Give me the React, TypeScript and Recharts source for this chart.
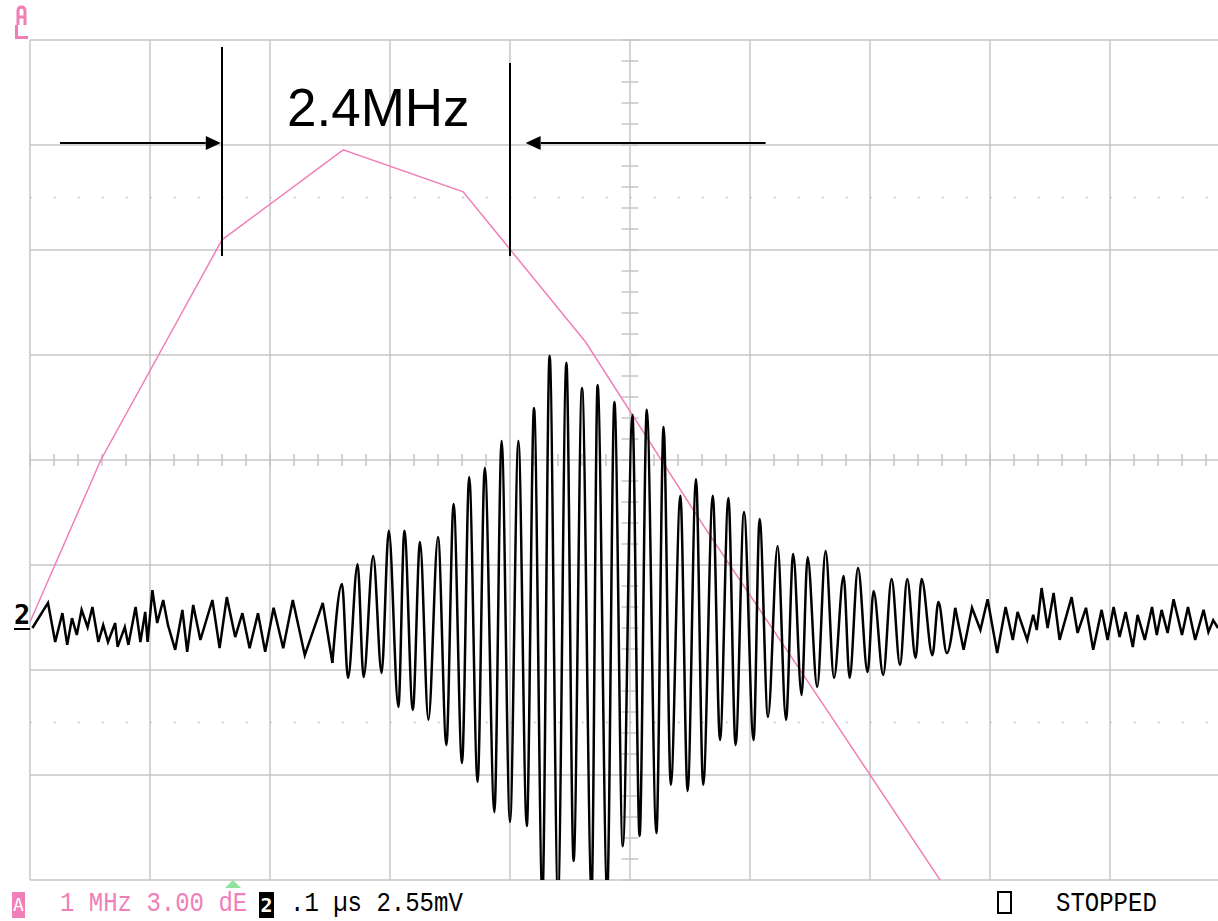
import React from 'react';
import { LineChart, Line, XAxis, YAxis, CartesianGrid, ReferenceLine } from 'recharts';

const PINK = '#f07fb8';
const GRID = '#c6c6c6';

// Channel A spectrum: 1 MHz/div, 3 dB/div, centre line = 0 dB
const specMHz = [0, 0.59, 1.6, 2.61, 3.61, 4.63, 5.63, 6.64, 7.65];
const specDb = [-4.63, 0, 6.29, 8.86, 7.66, 3.37, -1.97, -7.14, -12.34];

// -3 dB cursors and the bandwidth they enclose
const cursorMHz = [1.6, 4.0];
const cursorTopDb = [11.8, 11.34];
const cursorBottomDb = 5.83;
const arrowDb = 9.06;
const arrowLeft = [0.25, 1.59];
const arrowRight = [6.13, 4.13];
const bandwidthText = '2.4MHz';

// Channel 2 time trace: 0.1 µs/div, 2.55 mV/div, pairs of [ns, mV]
const leadNoise = [
  [2, -0.08], [15, 0.53], [21, -0.42], [27, 0.28], [31, -0.49], [35, 0.16], [39, -0.25],
  [43, 0.36], [48, -0.06], [52, 0.43], [57, -0.42], [61, -0.01], [65, -0.42], [71, 0.04],
  [73, -0.54], [79, -0.06], [82, -0.49], [88, 0.43], [92, -0.42], [96, 0.31], [98, -0.42],
  [102, 0.84], [106, 0.04], [111, 0.6], [115, -0.01], [121, -0.61], [127, 0.36], [131, -0.66],
  [136, 0.48], [142, -0.37], [152, 0.6], [158, -0.57], [164, 0.67], [171, -0.3], [177, 0.28],
  [183, -0.57], [190, 0.28], [196, -0.66], [203, 0.41], [211, -0.57], [219, 0.6], [229, -0.74],
  [244, 0.53], [252, -0.93],
];

const burst = [
  [252, -0.93], [260, 0.99], [265, -1.29], [273, 1.47], [278, -1.27], [286, 1.67], [293, -1.17],
  [299, 2.28], [307, -2.0], [312, 2.28], [319, -2.07], [325, 2.01], [332, -2.31], [340, 2.13],
  [347, -2.92], [353, 2.93], [360, -3.36], [366, 3.59], [373, -3.82], [379, 3.81], [387, -4.55],
  [393, 4.46], [400, -4.79], [407, 4.46], [414, -4.89], [420, 5.26], [427, -6.6], [433, 6.53],
  [440, -6.6], [447, 6.36], [453, -5.74], [460, 5.75], [468, -6.5], [473, 5.82], [481, -6.5],
  [487, 5.41], [494, -5.38], [502, 5.09], [508, -5.13], [514, 5.22], [522, -5.06], [528, 4.8],
  [534, -3.89], [542, 3.13], [548, -4.04], [555, 3.54], [561, -3.89], [569, 3.13], [575, -2.8],
  [582, 3.08], [588, -2.92], [595, 2.74], [603, -2.8], [608, 2.57], [615, -2.24], [623, 1.91],
  [630, -2.31], [636, 1.72], [643, -1.71], [648, 1.64], [656, -1.51], [663, 1.79], [670, -1.29],
  [678, 1.18], [683, -1.29], [690, 1.38], [698, -1.15], [703, 0.82], [711, -1.22], [718, 1.11],
  [725, -0.98], [731, 1.11], [738, -0.81], [743, 1.11], [752, -0.74], [757, 0.55], [764, -0.69],
  [771, 0.41],
];

const tailNoise = [
  [771, 0.41], [778, -0.61], [785, 0.41], [792, -0.13], [798, 0.62], [806, -0.69], [813, 0.43],
  [819, -0.37], [823, 0.31], [831, -0.37], [836, 0.24], [839, -0.13], [843, 0.89], [848, -0.08],
  [853, 0.77], [858, -0.37], [868, 0.67], [873, -0.2], [880, 0.41], [886, -0.61], [893, 0.36],
  [898, -0.37], [903, 0.43], [908, -0.3], [913, 0.31], [919, -0.54], [923, 0.24], [929, -0.37],
  [935, 0.43], [939, -0.25], [943, 0.36], [948, -0.2], [953, 0.62], [960, -0.25], [965, 0.43],
  [971, -0.37], [978, 0.36], [982, -0.18], [986, 0.11], [990, -0.08],
];

const specData = specMHz.map((f, i) => ({ f, db: specDb[i] }));
const toPoints = (rows: number[][]) => rows.map(([t, mv]) => ({ t, mv }));

// graticule: 10 x 8 divisions, minor marks at fifths on the centre cross
const xMajor = Array.from({ length: 11 }, (_, i) => i);
const yMajor = Array.from({ length: 9 }, (_, i) => -12 + i * 3);
const xMinor = Array.from({ length: 51 }, (_, i) => +(i * 0.2).toFixed(2));
const yMinor = Array.from({ length: 41 }, (_, i) => +(-12 + i * 0.6).toFixed(2));

const Arrow = (props: any) => {
  const { x1, y1, x2, y2 } = props;
  const dir = x2 > x1 ? 1 : -1;
  const head = 15;
  return (
    <g>
      <line x1={x1} y1={y1} x2={x2 - dir * head} y2={y2} stroke="#000" strokeWidth={2} />
      <polygon
        points={`${x2},${y2} ${x2 - dir * head},${y2 - 7} ${x2 - dir * head},${y2 + 7}`}
        fill="#000"
      />
    </g>
  );
};

const statusFont: React.CSSProperties = {
  position: 'absolute',
  top: 888,
  fontFamily: '"Liberation Mono", "DejaVu Sans Mono", monospace',
  fontSize: 24,
  lineHeight: '28px',
  whiteSpace: 'pre',
  transform: 'scaleY(1.15)',
  transformOrigin: 'top left',
};

const traceProps = {
  xAxisId: 't',
  yAxisId: 'mv',
  dataKey: 'mv',
  stroke: '#000',
  strokeWidth: 2.5,
  dot: false,
  isAnimationActive: false,
};

export default function App() {
  return (
    <div
      style={{
        position: 'fixed',
        left: 0,
        top: 0,
        width: 1218,
        height: 921,
        overflow: 'hidden',
        background: '#fff',
      }}
    >
      <LineChart width={1230} height={921} margin={{ top: 40, right: 0, bottom: 41, left: 30 }}>
        <XAxis type="number" dataKey="f" domain={[0, 10]} ticks={xMajor} hide allowDataOverflow />
        <YAxis type="number" domain={[-12, 12]} ticks={yMajor} hide allowDataOverflow />
        <XAxis xAxisId="t" type="number" dataKey="t" domain={[0, 1000]} hide allowDataOverflow />
        <YAxis yAxisId="mv" type="number" domain={[-6.2, 14.2]} hide allowDataOverflow />

        <CartesianGrid stroke={GRID} strokeWidth={1.5} />

        {/* dotted -3 dB guides */}
        {[7.5, -7.5].map((y) => (
          <ReferenceLine key={`dot${y}`} y={y} stroke="#b8b8b8" strokeWidth={1.5} strokeDasharray="1.5 22.5" />
        ))}

        {/* minor marks along the centre cross */}
        {xMinor.map((x) => (
          <ReferenceLine
            key={`xm${x}`}
            segment={[{ x, y: -0.17 }, { x, y: 0.17 }]}
            stroke={GRID}
            strokeWidth={1.5}
          />
        ))}
        {yMinor.map((y) => (
          <ReferenceLine
            key={`ym${y}`}
            segment={[{ x: 4.93, y }, { x: 5.07, y }]}
            stroke={GRID}
            strokeWidth={1.5}
          />
        ))}

        <Line
          data={specData}
          dataKey="db"
          type="linear"
          stroke={PINK}
          strokeWidth={1.5}
          dot={false}
          isAnimationActive={false}
        />

        <Line data={toPoints(leadNoise)} type="linear" {...traceProps} />
        <Line data={toPoints(burst)} type="monotone" {...traceProps} />
        <Line data={toPoints(tailNoise)} type="linear" {...traceProps} />

        {/* cursors */}
        {cursorMHz.map((x, i) => (
          <ReferenceLine
            key={`cur${i}`}
            segment={[{ x, y: cursorBottomDb }, { x, y: cursorTopDb[i] }]}
            stroke="#000"
            strokeWidth={2}
          />
        ))}
        <ReferenceLine
          segment={[{ x: arrowLeft[0], y: arrowDb }, { x: arrowLeft[1], y: arrowDb }]}
          shape={Arrow}
        />
        <ReferenceLine
          segment={[{ x: arrowRight[0], y: arrowDb }, { x: arrowRight[1], y: arrowDb }]}
          shape={Arrow}
        />
      </LineChart>

      <div
        style={{
          position: 'absolute',
          left: 287,
          top: 81,
          fontFamily: '"Liberation Sans", Arial, sans-serif',
          fontSize: 53,
          lineHeight: '53px',
          color: '#000',
        }}
      >
        {bandwidthText}
      </div>

      {/* channel A indicator, top left */}
      <svg style={{ position: 'absolute', left: 0, top: 0 }} width={32} height={44}>
        <path
          d="M18 25 V11 Q18 7 21.5 7 Q25 7 25 11 V25 M18 17 H25 M16.5 25 V37.5 H28"
          fill="none"
          stroke={PINK}
          strokeWidth={3}
        />
      </svg>

      {/* channel 2 ground marker */}
      <div
        style={{
          position: 'absolute',
          left: 14,
          top: 601,
          fontFamily: '"DejaVu Sans Mono", monospace',
          fontSize: 27,
          fontWeight: 'bold',
          lineHeight: '27px',
          color: '#000',
          borderBottom: '2px solid #000',
          width: 16,
        }}
      >
        2
      </div>

      {/* status line */}
      <div
        style={{
          position: 'absolute',
          left: 12,
          top: 892,
          width: 13,
          height: 26,
          background: PINK,
          color: '#fff',
          fontFamily: '"DejaVu Sans Mono", monospace',
          fontSize: 18,
          lineHeight: '26px',
          textAlign: 'center',
        }}
      >
        A
      </div>
      <div style={{ ...statusFont, left: 60, color: PINK }}>1 MHz 3.00 dE</div>
      <svg style={{ position: 'absolute', left: 225, top: 880 }} width={16} height={8}>
        <polygon points="8,0 16,8 0,8" fill="#8fe39b" />
      </svg>
      <div
        style={{
          position: 'absolute',
          left: 259,
          top: 892,
          width: 15,
          height: 26,
          background: '#000',
          color: '#fff',
          fontFamily: '"DejaVu Sans Mono", monospace',
          fontSize: 20,
          fontWeight: 'bold',
          lineHeight: '26px',
          textAlign: 'center',
        }}
      >
        2
      </div>
      <div style={{ ...statusFont, left: 290, color: '#000' }}>.1 µs 2.55mV</div>
      <div
        style={{
          position: 'absolute',
          left: 997,
          top: 891,
          width: 11,
          height: 19,
          border: '2px solid #000',
        }}
      />
      <div style={{ ...statusFont, left: 1056, color: '#000' }}>STOPPED</div>
    </div>
  );
}
